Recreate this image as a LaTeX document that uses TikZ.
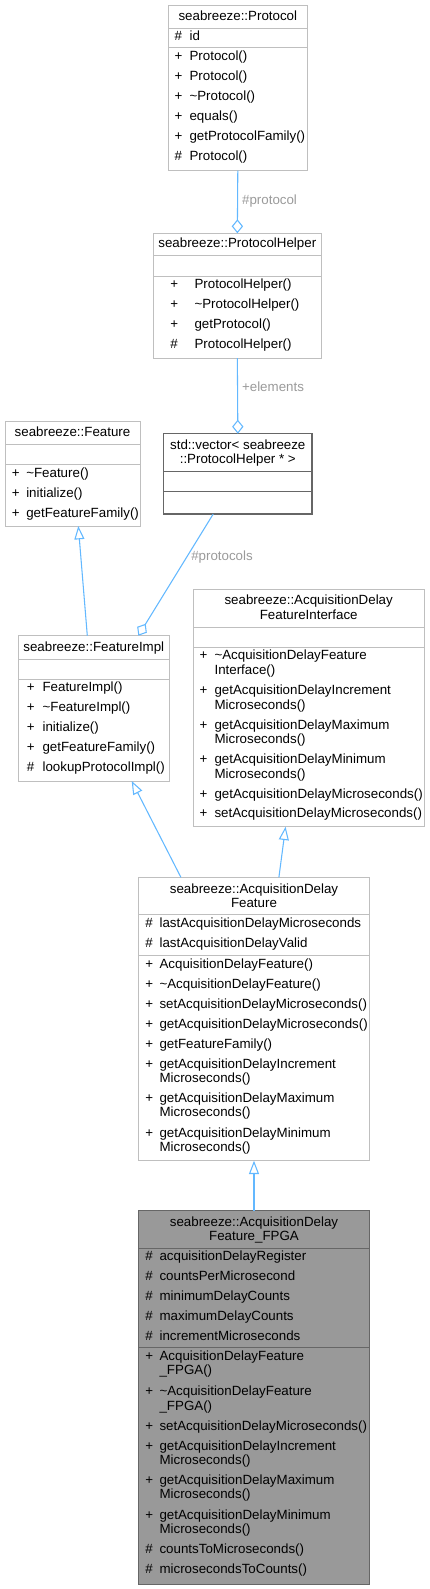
\documentclass[tikz,border=0pt]{standalone}
\usepackage{fontspec}
\setmainfont{Liberation Sans}
\usetikzlibrary{arrows.meta,fit,calc}
\definecolor{edgeblue}{HTML}{63B8FF}
\definecolor{lblgray}{HTML}{9A9A9A}
\definecolor{boxgray}{HTML}{BFBFBF}
\definecolor{darkgray}{HTML}{666666}
\definecolor{fillgray}{HTML}{999999}
\newcounter{tn}
\newcommand\ctx[3]{\stepcounter{tn}\node[ctext] (n\arabic{tn}) at (#1,#2) {#3};}
\newcommand\ltx[3]{\stepcounter{tn}\node[ltext] (n\arabic{tn}) at (#1,#2) {#3};}
\newcommand\ubox[6]{\node[#6, fit={(#2,#3) (#4,#5)}] (#1) {};}
\newcommand\usep[3]{\draw[sepline] (#1,#3) -- (#2,#3);}
\begin{document}
\begin{tikzpicture}[x=0.75pt,y=-0.75pt,
  font=\fontsize{10}{12}\selectfont,
  ctext/.style={inner sep=0pt, anchor=mid},
  ltext/.style={inner sep=0pt, anchor=mid west},
  elabel/.style={inner sep=0pt, anchor=mid west, text=lblgray},
  classbox/.style={draw=boxgray, line width=0.75pt, inner sep=0pt, outer sep=0pt},
  extbox/.style={draw=darkgray, line width=1pt, inner sep=0pt, outer sep=0pt},
  mainbox/.style={draw=darkgray, fill=fillgray, line width=0.75pt, inner sep=0pt, outer sep=0pt},
  sepline/.style={draw=boxgray, line width=0.75pt},
  inh/.style={draw=edgeblue, line width=0.8pt, -{Triangle[open, length=10pt, width=7.5pt]}},
  agg/.style={draw=edgeblue, line width=0.8pt, -{Diamond[open, length=10.5pt, width=8.5pt]}},
]
\useasboundingbox (0,0) rectangle (429,1589);

% ---------- Protocol
\ubox{proto}{168.3}{5}{307.3}{170.7}{classbox}
\usep{168.3}{307.3}{28.3}
\usep{168.3}{307.3}{47.7}
\ctx{237.8}{16.7}{seabreeze::Protocol}
\ltx{174.3}{36.7}{\#}\ltx{189.3}{36.7}{id}
\ltx{174.3}{57.3}{+}\ltx{189.3}{57.3}{Protocol()}
\ltx{174.3}{77.3}{+}\ltx{189.3}{77.3}{Protocol()}
\ltx{174.3}{97.3}{+}\ltx{189.3}{97.3}{\textasciitilde Protocol()}
\ltx{174.3}{117.3}{+}\ltx{189.3}{117.3}{equals()}
\ltx{174.3}{137.3}{+}\ltx{189.3}{137.3}{getProtocolFamily()}
\ltx{174.3}{157.3}{\#}\ltx{189.3}{157.3}{Protocol()}

% ---------- ProtocolHelper
\ubox{phelp}{153.7}{233.3}{321}{358}{classbox}
\usep{153.7}{321}{255.7}
\usep{153.7}{321}{276}
\ctx{237.3}{244.3}{seabreeze::ProtocolHelper}
\ltx{170}{285}{+}\ltx{194.3}{285}{ProtocolHelper()}
\ltx{170}{305}{+}\ltx{194.3}{305}{\textasciitilde ProtocolHelper()}
\ltx{170}{325}{+}\ltx{194.3}{325}{getProtocol()}
\ltx{170}{345}{\#}\ltx{194.3}{345}{ProtocolHelper()}

% ---------- std::vector
\ubox{vec}{163.7}{433.7}{312}{514}{extbox}
\draw[draw=darkgray, line width=1pt] (163.7,471.7) -- (312,471.7);
\draw[draw=darkgray, line width=1pt] (163.7,491.7) -- (312,491.7);
\ctx{237.8}{445.7}{std::vector< seabreeze}
\ctx{237.8}{460}{::ProtocolHelper * >}

% ---------- Feature
\ubox{feat}{5}{421}{140}{526}{classbox}
\usep{5}{140}{444.3}
\usep{5}{140}{464.3}
\ctx{72.5}{433.3}{seabreeze::Feature}
\ltx{11.7}{474}{+}\ltx{26}{474}{\textasciitilde Feature()}
\ltx{11.7}{494}{+}\ltx{26}{494}{initialize()}
\ltx{11.7}{514}{+}\ltx{26}{514}{getFeatureFamily()}

% ---------- FeatureImpl
\ubox{fimpl}{18.3}{635.7}{169.3}{781}{classbox}
\usep{18.3}{169.3}{659.3}
\usep{18.3}{169.3}{679.3}
\ctx{93.8}{648}{seabreeze::FeatureImpl}
\ltx{26.7}{688.3}{+}\ltx{42.3}{688.3}{FeatureImpl()}
\ltx{26.7}{708.3}{+}\ltx{42.3}{708.3}{\textasciitilde FeatureImpl()}
\ltx{26.7}{728.3}{+}\ltx{42.3}{728.3}{initialize()}
\ltx{26.7}{748.3}{+}\ltx{42.3}{748.3}{getFeatureFamily()}
\ltx{26.7}{768.3}{\#}\ltx{42.3}{768.3}{lookupProtocolImpl()}

% ---------- AcquisitionDelayFeatureInterface
\ubox{iface}{193.3}{589.3}{424}{826.7}{classbox}
\usep{193.3}{424}{627}
\usep{193.3}{424}{647}
\ctx{308.7}{601.3}{seabreeze::AcquisitionDelay}
\ctx{308.7}{616.3}{FeatureInterface}
\ltx{199.3}{656.3}{+}\ltx{214.3}{656.3}{\textasciitilde AcquisitionDelayFeature}
\ltx{214.3}{670.7}{Interface()}
\ltx{199.3}{691}{+}\ltx{214.3}{691}{getAcquisitionDelayIncrement}
\ltx{214.3}{705.7}{Microseconds()}
\ltx{199.3}{725.7}{+}\ltx{214.3}{725.7}{getAcquisitionDelayMaximum}
\ltx{214.3}{740.3}{Microseconds()}
\ltx{199.3}{760.3}{+}\ltx{214.3}{760.3}{getAcquisitionDelayMinimum}
\ltx{214.3}{775}{Microseconds()}
\ltx{199.3}{794.7}{+}\ltx{214.3}{794.7}{getAcquisitionDelayMicroseconds()}
\ltx{199.3}{814}{+}\ltx{214.3}{814}{setAcquisitionDelayMicroseconds()}

% ---------- AcquisitionDelayFeature
\ubox{adf}{138.7}{877.3}{369.3}{1160.7}{classbox}
\usep{138.7}{369.3}{914.7}
\usep{138.7}{369.3}{955.3}
\ctx{254}{890}{seabreeze::AcquisitionDelay}
\ctx{254}{904.3}{Feature}
\ltx{145}{924.3}{\#}\ltx{159.3}{924.3}{lastAcquisitionDelayMicroseconds}
\ltx{145}{944.3}{\#}\ltx{159.3}{944.3}{lastAcquisitionDelayValid}
\ltx{145}{964.7}{+}\ltx{159.3}{964.7}{AcquisitionDelayFeature()}
\ltx{145}{984.7}{+}\ltx{159.3}{984.7}{\textasciitilde AcquisitionDelayFeature()}
\ltx{145}{1004.7}{+}\ltx{159.3}{1004.7}{setAcquisitionDelayMicroseconds()}
\ltx{145}{1024.7}{+}\ltx{159.3}{1024.7}{getAcquisitionDelayMicroseconds()}
\ltx{145}{1044.7}{+}\ltx{159.3}{1044.7}{getFeatureFamily()}
\ltx{145}{1064.7}{+}\ltx{159.3}{1064.7}{getAcquisitionDelayIncrement}
\ltx{159.3}{1079}{Microseconds()}
\ltx{145}{1098.7}{+}\ltx{159.3}{1098.7}{getAcquisitionDelayMaximum}
\ltx{159.3}{1113}{Microseconds()}
\ltx{145}{1133.7}{+}\ltx{159.3}{1133.7}{getAcquisitionDelayMinimum}
\ltx{159.3}{1148}{Microseconds()}

% ---------- AcquisitionDelayFeature_FPGA
\ubox{fpga}{138.7}{1210.7}{369.3}{1584}{mainbox}
\draw[draw=darkgray, line width=0.75pt] (138.7,1248) -- (369.3,1248);
\draw[draw=darkgray, line width=0.75pt] (138.7,1347.7) -- (369.3,1347.7);
\ctx{254}{1222.7}{seabreeze::AcquisitionDelay}
\ctx{254}{1236.7}{Feature\_FPGA}
\ltx{145}{1256.7}{\#}\ltx{159.3}{1256.7}{acquisitionDelayRegister}
\ltx{145}{1276.7}{\#}\ltx{159.3}{1276.7}{countsPerMicrosecond}
\ltx{145}{1296.7}{\#}\ltx{159.3}{1296.7}{minimumDelayCounts}
\ltx{145}{1316.7}{\#}\ltx{159.3}{1316.7}{maximumDelayCounts}
\ltx{145}{1336.7}{\#}\ltx{159.3}{1336.7}{incrementMicroseconds}
\ltx{145}{1356.7}{+}\ltx{159.3}{1356.7}{AcquisitionDelayFeature}
\ltx{159.3}{1371}{\_FPGA()}
\ltx{145}{1392}{+}\ltx{159.3}{1392}{\textasciitilde AcquisitionDelayFeature}
\ltx{159.3}{1406.7}{\_FPGA()}
\ltx{145}{1426.7}{+}\ltx{159.3}{1426.7}{setAcquisitionDelayMicroseconds()}
\ltx{145}{1446.7}{+}\ltx{159.3}{1446.7}{getAcquisitionDelayIncrement}
\ltx{159.3}{1461}{Microseconds()}
\ltx{145}{1481}{+}\ltx{159.3}{1481}{getAcquisitionDelayMaximum}
\ltx{159.3}{1495}{Microseconds()}
\ltx{145}{1515.7}{+}\ltx{159.3}{1515.7}{getAcquisitionDelayMinimum}
\ltx{159.3}{1530}{Microseconds()}
\ltx{145}{1550}{\#}\ltx{159.3}{1550}{countsToMicroseconds()}
\ltx{145}{1570}{\#}\ltx{159.3}{1570}{microsecondsToCounts()}

% ---------- connectors
\draw[agg] ($(proto.south west)!0.5!(proto.south east)$) -- ($(phelp.north west)!0.5!(phelp.north east)$)
  node[elabel, pos=0.48, xshift=3pt] (lprot) {\#protocol};
\draw[agg] ($(phelp.south west)!0.5!(phelp.south east)$) -- ($(vec.north west)!0.5!(vec.north east)$)
  node[elabel, pos=0.4, xshift=3pt] (lelem) {+elements};
\draw[agg] ($(vec.south west)!0.334!(vec.south east)$) -- ($(fimpl.north west)!0.795!(fimpl.north east)$);
\node[elabel] (lprots) at (191,556.7) {\#protocols};
\draw[inh] ($(fimpl.north west)!0.457!(fimpl.north east)$) -- ($(feat.south west)!0.543!(feat.south east)$);
\draw[inh] ($(adf.north west)!0.183!(adf.north east)$) -- ($(fimpl.south west)!0.751!(fimpl.south east)$);
\draw[inh] ($(adf.north west)!0.608!(adf.north east)$) -- ($(iface.south west)!0.4!(iface.south east)$);
\draw[inh] ($(fpga.north west)!0.5!(fpga.north east)$) -- ($(adf.south west)!0.5!(adf.south east)$);
\end{tikzpicture}
\end{document}
